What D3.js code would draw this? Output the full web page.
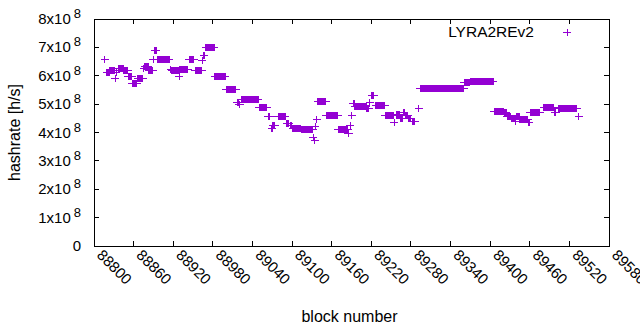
<!DOCTYPE html>
<html>
<head>
<meta charset="utf-8">
<script src="https://cdn.jsdelivr.net/npm/d3@7"></script>
<style>
  body { margin: 0; background: #fff; }
  text { font-family: "Liberation Sans", Arial, sans-serif; fill: #000; }
</style>
</head>
<body>
<svg id="chart" width="640" height="330"></svg>
<script>
// runs of consecutive blocks sharing the same hashrate (x10^8 h/s)
const runStart = [88816, 88819, 88824, 88832, 88834, 88837, 88845, 88852, 88858, 88866,
  88875, 88877, 88883, 88890, 88892, 88896, 88916, 88918, 88929, 88930,
  88944, 88953, 88964, 88966, 88969, 88983, 89000, 89017, 89020, 89023,
  89050, 89064, 89069, 89071, 89079, 89092, 89097, 89101, 89114, 89132,
  89134, 89135, 89137, 89139, 89152, 89170, 89185, 89188, 89190, 89193,
  89195, 89213, 89218, 89221, 89227, 89241, 89255, 89258, 89264, 89269,
  89272, 89277, 89282, 89292, 89294, 89361, 89370, 89406, 89421, 89426,
  89433, 89439, 89440, 89445, 89458, 89461, 89481, 89498, 89503, 89534];
const runEnd = [88816, 88823, 88831, 88832, 88834, 88844, 88851, 88857, 88865, 88874,
  88875, 88882, 88889, 88890, 88894, 88914, 88916, 88928, 88929, 88942,
  88951, 88963, 88964, 88967, 88982, 88999, 89015, 89019, 89021, 89049,
  89062, 89066, 89070, 89074, 89090, 89095, 89099, 89113, 89131, 89132,
  89134, 89135, 89137, 89151, 89169, 89184, 89186, 89188, 89190, 89194,
  89212, 89216, 89218, 89224, 89240, 89253, 89255, 89262, 89267, 89270,
  89275, 89280, 89286, 89292, 89360, 89369, 89405, 89420, 89424, 89431,
  89438, 89439, 89444, 89457, 89459, 89475, 89496, 89499, 89531, 89534];
const runValue = [6.59, 6.10, 6.18, 5.89, 6.10, 6.27, 6.18, 5.96, 5.71, 5.92,
  6.25, 6.31, 6.19, 6.56, 6.88, 6.56, 6.21, 6.18, 5.98, 6.21,
  6.56, 6.20, 6.54, 6.72, 7.01, 5.98, 5.50, 5.04, 4.98, 5.15,
  4.87, 4.55, 4.14, 4.24, 4.58, 4.32, 4.25, 4.15, 4.09, 3.81,
  3.73, 4.20, 4.45, 5.11, 4.59, 4.10, 3.96, 4.24, 4.59, 5.02,
  4.90, 4.83, 5.06, 5.30, 4.94, 4.59, 4.36, 4.64, 4.51, 4.71,
  4.60, 4.48, 4.39, 4.83, 5.54, 5.75, 5.78, 4.73, 4.69, 4.57,
  4.51, 4.39, 4.57, 4.45, 4.34, 4.69, 4.87, 4.69, 4.83, 4.57];

const xTicks = d3.range(88800, 89581, 60);
const yTicks = [0, 1, 2, 3, 4, 5, 6, 7, 8];
const seriesName = "LYRA2REv2";
const color = "#9400d3";

const width = 640, height = 330;
const margin = {top: 19, right: 31, bottom: 84, left: 94};

const svg = d3.select("#chart");

// expand the runs into one point per block
let points = [];
runStart.forEach((s, i) => {
  for (let b = s; b <= runEnd[i]; b++) points.push({block: b, rate: runValue[i] * 1e8});
});

const x = d3.scaleLinear().domain([88800, 89580]).range([margin.left, width - margin.right]);
const y = d3.scaleLinear().domain([0, 8e8]).range([height - margin.bottom, margin.top]);

const x0 = margin.left, x1 = width - margin.right;
const y0 = height - margin.bottom, y1 = margin.top;
const tick = 5;

// ticks (inward, mirrored)
const tg = svg.append("g").attr("stroke", "#000").attr("stroke-width", 1).attr("shape-rendering", "crispEdges");
xTicks.forEach(t => {
  tg.append("line").attr("x1", x(t)).attr("x2", x(t)).attr("y1", y0).attr("y2", y0 - tick);
  tg.append("line").attr("x1", x(t)).attr("x2", x(t)).attr("y1", y1).attr("y2", y1 + tick);
});
yTicks.forEach(t => {
  tg.append("line").attr("x1", x0).attr("x2", x0 + tick).attr("y1", y(t * 1e8)).attr("y2", y(t * 1e8));
  tg.append("line").attr("x1", x1).attr("x2", x1 - tick).attr("y1", y(t * 1e8)).attr("y2", y(t * 1e8));
});

// border
svg.append("rect")
  .attr("x", x0).attr("y", y1).attr("width", x1 - x0).attr("height", y0 - y1)
  .attr("fill", "none").attr("stroke", "#000").attr("stroke-width", 1)
  .attr("shape-rendering", "crispEdges");

// y tick labels  "Nx10^8"
const yl = svg.append("g").attr("font-size", 15).attr("text-anchor", "end");
yTicks.forEach(t => {
  const tt = yl.append("text").attr("x", 81).attr("y", y(t * 1e8) + 5);
  if (t === 0) { tt.text("0"); return; }
  tt.append("tspan").text(t + "x10");
  tt.append("tspan").attr("dx", 3).attr("dy", -6).attr("font-size", 13).text("8");
});

// x tick labels rotated
const xl = svg.append("g").attr("font-size", 15);
xTicks.forEach(t => {
  xl.append("text")
    .attr("transform", `translate(${x(t) + 2},${y0 + 10}) rotate(45)`)
    .text(t);
});

// axis titles
svg.append("text")
  .attr("transform", `translate(20,${(y0 + y1) / 2}) rotate(-90)`)
  .attr("text-anchor", "middle").attr("font-size", 16)
  .text("hashrate [h/s]");
svg.append("text")
  .attr("x", (x0 + x1) / 2 - 2).attr("y", 322)
  .attr("text-anchor", "middle").attr("font-size", 16)
  .text("block number");

// markers
const plus = "M-4,0H4M0,-3.5V3.5";
svg.append("g")
  .attr("stroke", color).attr("stroke-width", 1).attr("fill", "none")
  .attr("shape-rendering", "crispEdges")
  .selectAll("path")
  .data(points)
  .join("path")
  .attr("d", plus)
  .attr("transform", d => `translate(${x(d.block)},${y(d.rate)})`);

// legend
svg.append("text")
  .attr("x", 534).attr("y", 37).attr("text-anchor", "end").attr("font-size", 15.5)
  .text(seriesName);
svg.append("path")
  .attr("d", plus).attr("stroke", color).attr("fill", "none")
  .attr("shape-rendering", "crispEdges")
  .attr("transform", "translate(567,32)");
</script>
</body>
</html>
